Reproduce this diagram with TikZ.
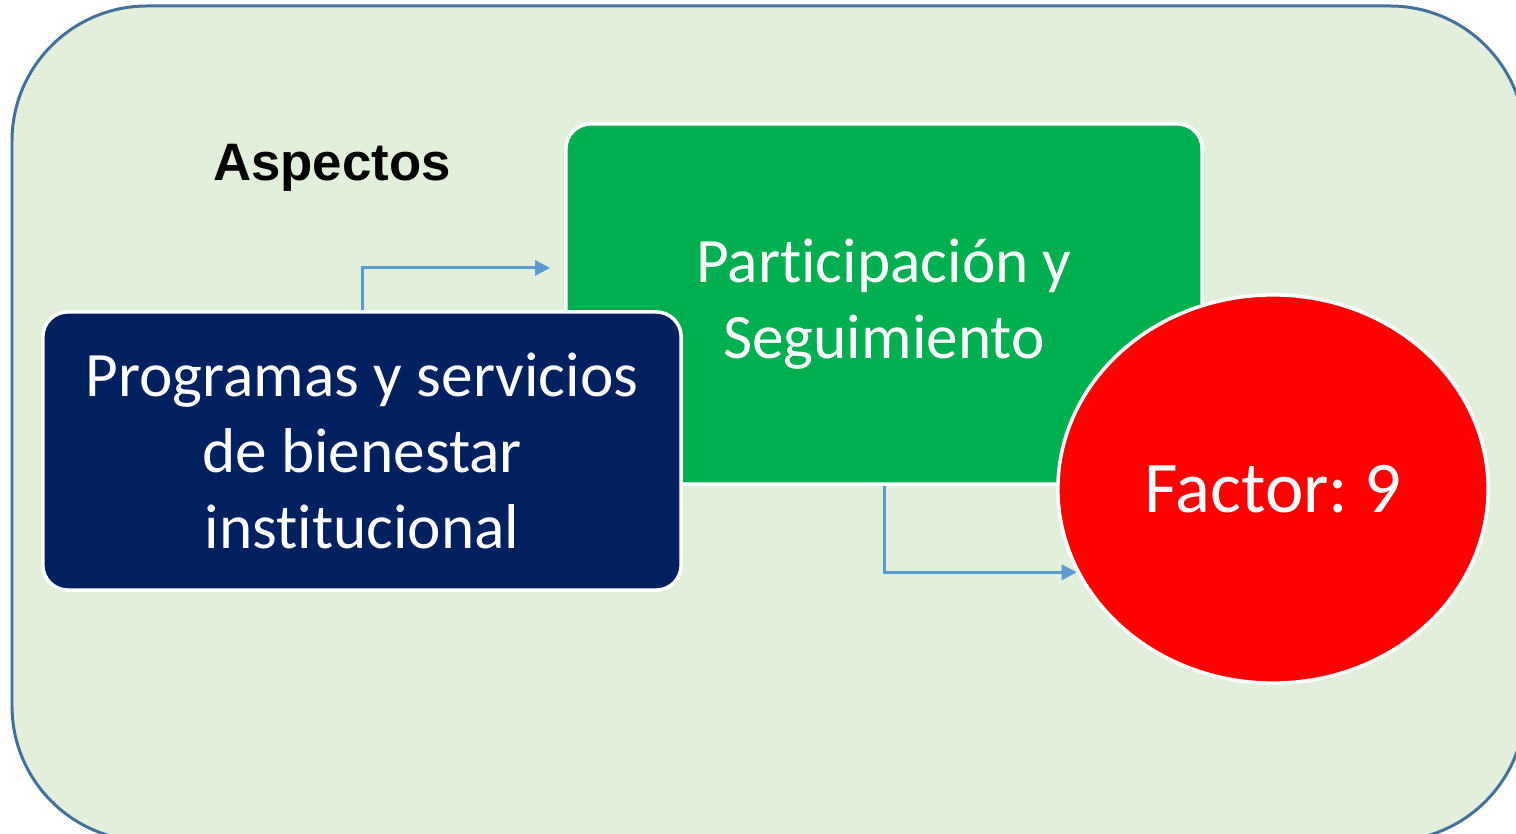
\documentclass[tikz,border=0pt]{standalone}
\usepackage{fontspec}
\setmainfont[Ligatures=NoCommon]{Carlito}
\newfontfamily\arialfont{Liberation Sans}
\usetikzlibrary{arrows.meta,shapes.geometric}
\frenchspacing

\definecolor{fondo}{HTML}{E2EFDA}
\definecolor{borde}{HTML}{41719C}
\definecolor{verde}{HTML}{00B050}
\definecolor{marino}{HTML}{002060}
\definecolor{flechaazul}{HTML}{5B9BD5}

\tikzset{
    caja/.style={draw=white, line width=1pt, rounded corners=0.25cm, text=white, align=center, inner sep=0pt},
    flecha/.style={draw=flechaazul, line width=0.85pt, -{Triangle[length=0.15cm, width=0.15cm]}}
}

\begin{document}
\begin{tikzpicture}[x=0.01cm, y=-0.01cm]
        \useasboundingbox (0, 0) rectangle (1516, 834);
        \clip (0, 0) rectangle (1516, 834);

        % Fondo
        \draw[fill=fondo, draw=borde, line width=0.85pt, rounded corners=1.35cm] (12, 6) rectangle (1525, 841);

        % Titulo
        \node (aspectos) at (332, 168) {\arialfont\bfseries\fontsize{15pt}{18pt}\selectfont Aspectos};

        % Cajas
        \node[caja, fill=verde, minimum width=6.36cm, minimum height=3.6cm,
              font=\fontsize{18pt}{21.6pt}\selectfont] (participacion) at (884, 304) {Participación y\\Seguimiento};
        \node[caja, fill=marino, minimum width=6.38cm, minimum height=2.78cm,
              font=\fontsize{18pt}{21.6pt}\selectfont] (programas) at (362, 451) {\raisebox{0.04cm}{\parbox{6cm}{\centering Programas y servicios\\de bienestar\\institucional}}};
        \node[ellipse, draw=white, line width=1pt, fill=red, text=white, inner sep=0pt,
              minimum width=4.3cm, minimum height=3.88cm,
              font=\fontsize{20.7pt}{24pt}\selectfont] (factor) at (1273, 489) {Factor: 9};

        % Flechas
        \draw[flecha] (programas.north) |- ([xshift=-0.14cm, yshift=0.36cm]participacion.west);
        \draw[flecha] (participacion.south) |- (factor.203);
\end{tikzpicture}
\end{document}
